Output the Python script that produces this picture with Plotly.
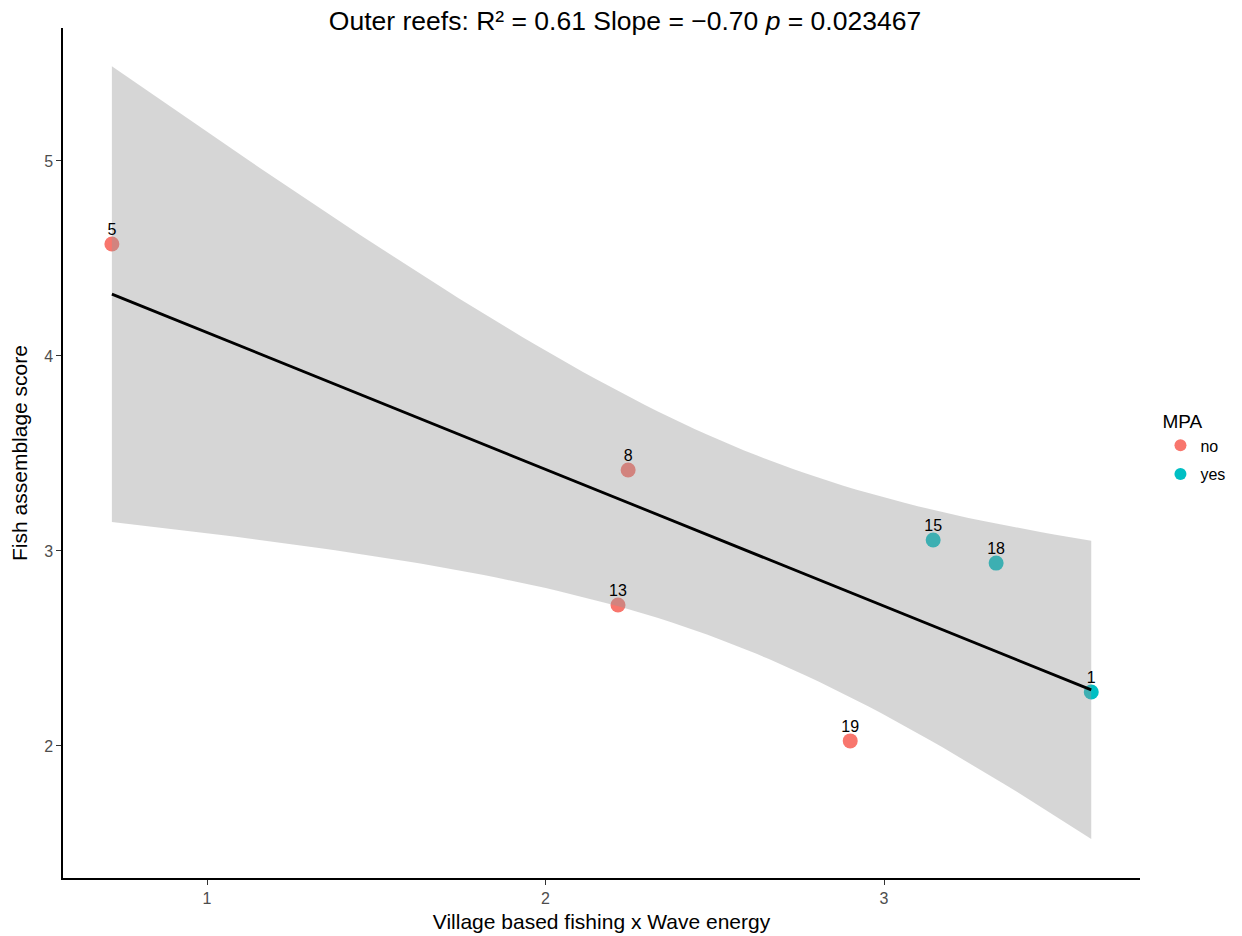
import numpy as np
import plotly.graph_objects as go

# Data
site_labels = ["5", "8", "13", "19", "15", "18", "1"]
fishing_wave = [0.719, 2.244, 2.214, 2.900, 3.145, 3.331, 3.612]
fish_score = [4.574, 3.415, 2.723, 2.026, 3.056, 2.938, 2.277]
mpa = ["no", "no", "no", "no", "yes", "yes", "yes"]
mpa_levels = ["no", "yes"]
mpa_colors = {"no": "#F8766D", "yes": "#00BFC4"}
x_ticks = [1, 2, 3]
y_ticks = [2, 3, 4, 5]

x = np.array(fishing_wave)
y = np.array(fish_score)
n = len(x)

# Linear model with 95% confidence band (as geom_smooth(method="lm"))
slope, intercept = np.polyfit(x, y, 1)
resid = y - (intercept + slope * x)
s = np.sqrt(np.sum(resid ** 2) / (n - 2))
sxx = np.sum((x - x.mean()) ** 2)
t_crit = 2.570582  # t(0.975, df=5)
xs = np.linspace(x.min(), x.max(), 80)
fit = intercept + slope * xs
se = s * np.sqrt(1 / n + (xs - x.mean()) ** 2 / sxx)
upper = fit + t_crit * se
lower = fit - t_crit * se

FONT = "Liberation Sans, Arial, sans-serif"

fig = go.Figure()

for lvl in mpa_levels:
    idx = [i for i, m in enumerate(mpa) if m == lvl]
    fig.add_trace(go.Scatter(
        x=[fishing_wave[i] for i in idx],
        y=[fish_score[i] for i in idx],
        mode="markers",
        name=lvl,
        legendgroup=lvl,
        marker=dict(color=mpa_colors[lvl], size=15, line=dict(width=0)),
    ))

fig.add_trace(go.Scatter(
    x=np.concatenate([xs, xs[::-1]]),
    y=np.concatenate([upper, lower[::-1]]),
    fill="toself",
    fillcolor="rgba(153,153,153,0.4)",
    line=dict(width=0),
    mode="lines",
    hoverinfo="skip",
    showlegend=False,
))

fig.add_trace(go.Scatter(
    x=xs, y=fit, mode="lines",
    line=dict(color="black", width=2.8),
    showlegend=False,
))

fig.add_trace(go.Scatter(
    x=fishing_wave, y=fish_score, mode="markers+text",
    marker=dict(size=7, opacity=0),
    text=site_labels, textposition="top center",
    textfont=dict(family=FONT, size=16, color="black"),
    showlegend=False, hoverinfo="skip",
))

fig.update_layout(
    width=1234, height=928,
    paper_bgcolor="white", plot_bgcolor="white",
    margin=dict(l=55, r=102, t=20, b=58, autoexpand=False),
    font=dict(family=FONT, color="black"),
    title=dict(
        text="Outer reefs: R\u00b2 = 0.61 Slope = \u22120.70 <i>p</i> = 0.023467",
        x=0.5, xanchor="center", xref="container",
        y=1, yref="container", yanchor="top", pad=dict(t=3, b=0),
        font=dict(size=26.5, color="black"),
    ),
    legend=dict(
        title=dict(text="MPA", font=dict(size=19, color="black")),
        x=1.019, xanchor="left", y=0.558, yanchor="top",
        font=dict(size=16, color="black"),
        itemsizing="constant",
        traceorder="grouped",
        tracegroupgap=5,
    ),
    showlegend=True,
)

fig.update_xaxes(
    range=[0.5746, 3.756],
    tickvals=x_ticks, ticktext=[str(v) for v in x_ticks],
    showgrid=False, zeroline=False,
    showline=True, linecolor="black", linewidth=1.5,
    ticks="outside", ticklen=5, tickcolor="#333333", tickwidth=1,
    tickfont=dict(family=FONT, size=16, color="#4D4D4D"),
    title=dict(text="Village based fishing x Wave energy", font=dict(family=FONT, size=21, color="black"), standoff=8),
    automargin=False,
)
fig.update_yaxes(
    range=[1.323, 5.682],
    tickvals=y_ticks, ticktext=[str(v) for v in y_ticks],
    showgrid=False, zeroline=False,
    showline=True, linecolor="black", linewidth=1.5,
    ticks="outside", ticklen=5, tickcolor="#333333", tickwidth=1,
    tickfont=dict(family=FONT, size=16, color="#4D4D4D"),
    title=dict(text="Fish assemblage score", font=dict(family=FONT, size=21, color="black"), standoff=12),
    automargin=False,
)

fig.write_html("out.html")
